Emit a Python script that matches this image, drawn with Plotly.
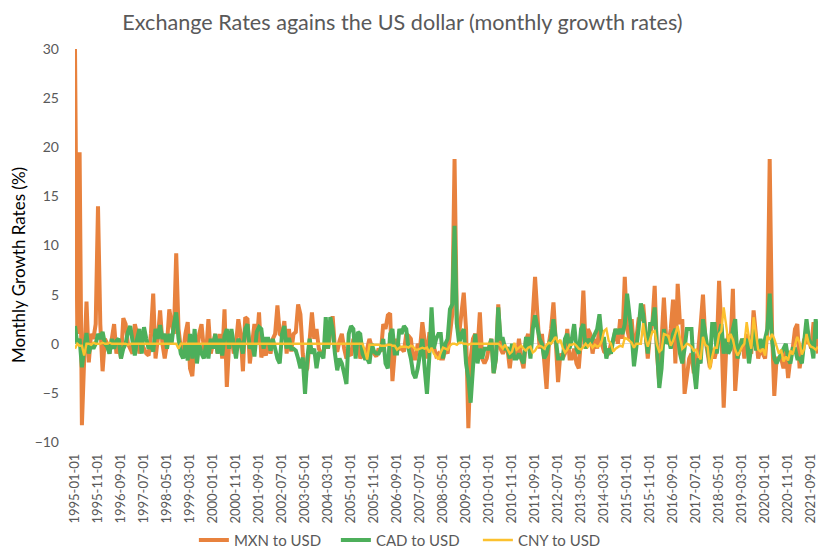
import pandas as pd
import plotly.graph_objects as go

# Monthly categories 1995-01 .. 2021-12
months = [d.strftime("%Y-%m-%d") for d in pd.date_range("1995-01-01", "2021-12-01", freq="MS")]

mxn = [
    # 1995
    30.0, 1.0, 19.5, -8.3, -1.5, 4.3, -1.9, 1.0, 0.5, 2.0, 14.0, 2.0,
    # 1996
    -2.8, 0.5, 0.0, -1.0, 0.5, 2.0, -1.0, 0.0, -1.5, 2.6, 2.0, 0.0,
    # 1997
    -0.5, -1.0, 2.0, 1.0, -1.0, 0.0, -0.5, -1.0, -1.2, 1.0, 5.1, -1.5,
    # 1998
    0.5, 3.4, 0.0, -1.5, 0.0, 3.5, 2.0, 1.0, 9.2, 1.5, -0.5, -1.0,
    # 1999
    1.0, 2.2, -2.5, -3.3, 0.0, -1.0, 1.0, 2.0, -0.5, -1.0, 2.5, -1.0,
    # 2000
    0.0, 1.0, -1.0, 1.0, -1.5, 3.5, -4.4, 0.0, 1.0, -1.0, 0.0, 2.5,
    # 2001
    1.0, -2.8, 2.7, 2.5, -2.0, 0.0, 2.0, 0.0, 3.2, -1.4, -0.5, -1.2,
    # 2002
    0.5, -1.0, 0.5, 1.0, 3.9, 1.0, 0.8, 2.3, -1.0, 1.5, -0.8, 1.0,
    # 2003
    1.2, 4.0, 3.0, -1.0, -3.0, -2.5, 1.0, 3.2, 0.5, 1.5, -0.5, -1.0,
    # 2004
    -1.0, 0.5, -0.5, 1.5, 2.8, -0.5, -0.8, 0.3, 1.0, -0.5, -1.5, -1.0,
    # 2005
    -1.2, 0.5, -0.5, 0.8, -1.5, -1.0, -1.2, -0.5, 0.5, -0.3, -1.0, -1.3,
    # 2006
    -0.5, -0.8, 2.0, 1.5, 2.9, 3.1, -3.8, -0.8, 0.5, -0.5, -0.5, -0.8,
    # 2007
    1.0, 0.8, 0.5, -1.5, -1.5, 0.0, -0.5, 2.2, 0.0, -1.5, 1.0, 1.0,
    # 2008
    -0.3, -1.2, -1.0, -1.5, -1.5, -0.5, -1.0, 0.8, 3.0, 18.8, 2.0, 1.0,
    # 2009
    3.0, 5.2, 1.5, -8.6, -1.5, 0.5, 1.0, -0.5, 3.2, -1.5, -2.0, -1.5,
    # 2010
    -0.3, 0.5, -3.0, -1.5, 4.0, -0.5, -1.0, -0.5, -0.5, -2.5, -0.5, -0.5,
    # 2011
    -1.5, 0.5, -1.5, -2.5, 0.3, 1.0, -1.0, 2.5, 6.8, 3.0, -0.5, 1.0,
    # 2012
    -2.5, -4.6, 0.0, 1.5, 4.2, 0.5, -3.9, -1.0, -1.5, -1.0, 1.5, -1.5,
    # 2013
    -1.5, -0.5, -2.0, -2.5, 0.5, 5.4, -0.5, 1.5, 1.0, -1.0, 0.5, -0.5,
    # 2014
    2.0, 0.0, -0.8, -1.0, -1.0, 0.0, 0.3, 1.5, 0.0, 2.5, 0.5, 6.8,
    # 2015
    1.5, 0.5, 2.5, -0.5, 0.5, 2.5, 2.5, 4.0, 1.0, -1.5, 1.0, 2.0,
    # 2016
    5.9, -1.0, -4.0, 1.5, 4.7, 0.5, 0.0, 1.5, 4.5, -2.0, 6.1, 2.0,
    # 2017
    2.5, -5.1, -3.5, -1.5, -1.0, -3.0, -1.5, -0.5, 2.0, 5.0, 0.5, -1.0,
    # 2018
    -2.4, -0.5, -1.5, -0.5, 6.4, 1.5, -6.5, -1.0, 1.0, 0.0, 5.6, -4.8,
    # 2019
    -1.5, -0.5, 0.5, -1.5, 1.0, -0.5, -1.0, 3.4, 0.5, -1.5, -0.5, -1.0,
    # 2020
    -1.5, 1.5, 18.8, 1.5, -5.3, -1.5, -1.5, -1.5, -2.5, -0.5, -3.5, -1.5,
    # 2021
    -0.5, 1.5, 2.0, -2.5, -1.0, 0.5, 0.0, 0.5, -0.5, 2.0, 2.0, -1.0,
]

cad = [
    # 1995
    1.8, 0.0, 0.5, -2.4, -0.5, 1.1, -1.0, 0.0, -0.5, 0.0, 1.0, 0.5,
    # 1996
    1.2, 0.0, -0.3, -1.0, 0.5, -0.5, 0.3, 0.5, -1.5, -0.5, 0.0, 1.2,
    # 1997
    1.8, 0.0, -1.2, 0.5, 1.5, -1.0, 1.7, 0.5, -0.5, 0.0, -0.8, 1.5,
    # 1998
    0.5, 1.9, 0.5, 1.0, -0.5, 1.0, 0.0, 2.0, 3.2, 0.5, -1.0, -1.5,
    # 1999
    0.0, -1.7, 1.0, -1.5, 1.5, -2.0, 0.0, -1.0, -1.5, 0.0, -1.5, 0.5,
    # 2000
    -0.5, 1.0, -1.0, 0.5, -1.2, 0.8, 1.5, -0.5, 1.5, 0.0, -1.5, 0.5,
    # 2001
    0.0, -1.0, 1.5, 2.0, -0.5, 0.0, -1.3, 1.2, 1.7, 1.5, -0.5, 0.5,
    # 2002
    0.5, -0.7, 0.5, -0.5, -1.5, -2.0, 1.0, 1.8, -0.5, 0.6, -0.5, -0.5,
    # 2003
    -0.7, -1.5, -2.5, -1.4, -5.1, -1.5, 0.5, -1.0, -0.5, -2.5, -1.0, -1.0,
    # 2004
    -1.5, 2.7, -0.5, 2.7, 1.5, -1.0, -2.7, -1.5, -2.0, -3.0, -4.1, 1.0,
    # 2005
    1.8, 1.5, -1.5, 1.2, 1.0, -1.0, -1.5, -1.5, -2.0, 0.0, -0.8, -1.0,
    # 2006
    -1.0, -0.5, 0.5, -2.0, -2.5, 1.0, 1.5, -1.0, -1.0, 1.5, 1.0, 1.8,
    # 2007
    1.5, -0.5, -1.5, -3.0, -3.5, -2.5, -1.0, 0.5, -2.5, -5.1, -1.5, 3.7,
    # 2008
    -0.5, 0.5, 1.0, 1.0, -1.5, 0.0, 0.5, 3.5, 4.0, 12.0, 2.0, 0.0,
    # 2009
    1.0, 1.5, -2.0, -3.5, -6.0, -2.5, 1.0, -2.0, -0.5, -1.5, -0.5, -0.5,
    # 2010
    -0.5, 0.5, -3.0, -1.5, 3.7, 0.5, 0.5, -0.5, -0.5, -1.5, 0.0, -1.5,
    # 2011
    -1.5, -1.0, -1.5, -2.0, 0.5, 0.5, -1.5, 1.5, 2.9, 1.5, 0.5, 0.0,
    # 2012
    -1.5, -1.0, 0.0, 0.5, 2.5, 0.5, -1.5, -1.5, -1.5, 0.5, 1.0, -0.5,
    # 2013
    0.5, 2.0, -0.5, -1.0, 1.5, 2.0, -0.5, 0.5, 0.0, 0.5, 1.0, 1.5,
    # 2014
    3.0, 0.5, 0.5, -1.5, -0.5, -1.0, 0.5, 1.5, 1.0, 1.5, 1.0, 2.0,
    # 2015
    5.1, 3.0, 1.0, -2.3, -0.5, 1.5, 4.1, 3.0, 1.0, -1.0, 2.0, 2.0,
    # 2016
    3.7, -1.5, -4.5, -2.5, 1.5, 0.0, 0.5, -0.5, 1.0, 1.5, 1.0, -1.0,
    # 2017
    -2.0, -0.5, 1.5, 1.5, 1.5, -2.5, -4.6, -1.5, -2.0, 2.5, 1.0, -0.5,
    # 2018
    -2.0, 2.0, 2.0, -1.0, 1.0, 2.0, -1.0, 0.5, -1.0, -0.5, 1.5, 2.5,
    # 2019
    -1.5, -0.5, 0.5, 0.0, 0.5, -2.0, -0.5, 1.5, -0.5, -0.5, 0.5, -0.5,
    # 2020
    0.5, 1.5, 5.1, 0.5, -1.5, -2.0, -1.5, -1.0, -0.5, 0.0, -1.5, -2.0,
    # 2021
    -0.5, -0.5, -1.5, -1.5, -2.0, 0.5, 2.5, 0.5, 0.0, -1.5, 2.5, 0.5,
]

cny = [
    # 1995
    -0.5, 0.0, -0.2, -0.2, -1.2, 0.0, 0.0, -0.1, 0.1, 0.0, 0.0, 0.0,
    # 1996
    0.1, 0.0, 0.0, 0.1, 0.0, 0.0, 0.0, 0.0, 0.0, 0.0, 0.0, -0.1,
    # 1997
    0.0, 0.0, 0.0, 0.0, 0.0, 0.0, 0.0, 0.0, 0.0, 0.0, 0.0, 0.0,
    # 1998
    0.0, 0.0, 0.0, 0.0, 0.0, 0.0, 0.0, 0.0, 0.0, -0.5, 0.0, 0.0,
    # 1999
    0.0, 0.0, 0.0, 0.0, 0.0, 0.0, 0.0, 0.0, 0.0, 0.0, 0.0, 0.0,
    # 2000
    0.0, 0.0, 0.0, 0.0, 0.0, 0.0, 0.0, 0.0, 0.0, 0.0, 0.0, 0.0,
    # 2001
    0.0, 0.0, 0.0, 0.0, 0.0, 0.0, 0.0, 0.0, 0.0, 0.0, 0.0, 0.0,
    # 2002
    0.0, 0.0, 0.0, 0.0, 0.0, 0.0, 0.0, 0.0, 0.0, 0.0, 0.0, 0.0,
    # 2003
    0.0, 0.0, 0.0, 0.0, 0.0, 0.0, 0.0, 0.0, 0.0, 0.0, 0.0, 0.0,
    # 2004
    0.0, 0.0, 0.0, 0.0, 0.0, 0.0, 0.0, 0.0, 0.0, 0.0, 0.0, 0.0,
    # 2005
    0.0, 0.0, 0.0, 0.0, 0.0, 0.0, -0.7, -1.6, -0.1, -0.1, -0.1, -0.1,
    # 2006
    -0.1, -0.2, -0.2, -0.2, -0.1, -0.1, -0.2, -0.2, -0.6, -0.4, -0.3, -0.3,
    # 2007
    -0.3, -0.4, -0.2, -0.3, -0.6, -0.6, -0.5, -0.4, -0.5, -0.4, -0.9, -0.4,
    # 2008
    -1.0, -1.3, -1.6, -0.9, -0.4, -0.5, -0.6, -0.2, 0.0, 0.0, -0.1, 0.1,
    # 2009
    0.1, 0.0, 0.0, -0.1, 0.0, 0.0, 0.0, 0.0, 0.0, 0.0, 0.0, 0.0,
    # 2010
    0.0, 0.0, 0.0, 0.0, 0.0, -0.2, -0.5, -0.1, -0.5, -1.0, -0.8, 0.1,
    # 2011
    -0.6, -0.4, -0.2, -0.5, -0.7, -0.4, -0.3, -0.9, -0.7, -0.3, -0.2, -0.3,
    # 2012
    -0.5, -0.1, 0.1, 0.0, 0.4, 0.7, 0.1, 0.4, -0.4, -0.9, -0.6, -0.1,
    # 2013
    -0.1, 0.0, -0.2, -0.5, -0.6, -0.3, 0.0, -0.3, 0.0, -0.4, -0.1, -0.3,
    # 2014
    -0.2, 0.3, 1.3, 1.5, 0.3, 0.0, -0.8, -0.5, -0.3, -0.2, -0.3, 0.6,
    # 2015
    0.5, 0.3, 0.1, -0.4, 0.0, 0.0, 0.0, 2.1, 0.5, -0.3, 0.4, 1.2,
    # 2016
    1.3, -0.1, -0.8, -0.6, 1.0, 0.9, 0.8, -0.2, 0.3, 1.0, 1.8, 0.6,
    # 2017
    -0.5, -0.3, 0.0, -0.1, -0.3, -0.7, -0.6, -1.2, -1.6, 0.7, -0.1, -0.3,
    # 2018
    -2.6, -1.3, -0.4, -0.4, 1.0, 1.3, 3.7, 2.0, 0.2, 1.0, 0.4, -0.6,
    # 2019
    -1.2, -0.8, -0.3, 0.0, 2.2, 0.6, -0.5, 2.7, 0.9, -0.6, -0.8, -0.5,
    # 2020
    -1.2, 0.8, 0.4, 1.0, 0.5, -0.4, -1.0, -0.6, -1.8, -1.3, -1.7, -0.7,
    # 2021
    -1.1, -0.1, 0.7, 0.1, -1.1, -0.5, 1.0, 0.0, -0.3, -0.4, -0.6, -0.3,
]

series_names = ["MXN to USD", "CAD to USD", "CNY to USD"]
series_colors = ["#E8823E", "#4DAF5B", "#FCC12E"]
series_widths = [4.0, 4.0, 2.4]

tick_labels = months[::10]
y_ticks = [-10, -5, 0, 5, 10, 15, 20, 25, 30]

FONT = "Lato, Carlito, Calibri, sans-serif"
GREY = "#595959"

fig = go.Figure()
for name, vals, col, w in zip(series_names, [mxn, cad, cny], series_colors, series_widths):
    fig.add_trace(go.Scatter(
        x=months, y=vals, mode="lines", name=name,
        line=dict(color=col, width=w),
    ))

fig.update_layout(
    width=818, height=550,
    margin=dict(l=75, r=0, t=49, b=108, autoexpand=False),
    paper_bgcolor="white", plot_bgcolor="white",
    font=dict(family=FONT, color=GREY),
    title=dict(
        text="Exchange Rates agains the US dollar (monthly growth rates)",
        xref="container", yref="container",
        x=0.492, xanchor="center", y=0.96, yanchor="middle",
        font=dict(family=FONT, size=21.6, color=GREY),
    ),
    showlegend=True,
    legend=dict(
        orientation="h", x=0.16, xanchor="left", y=-0.25, yanchor="middle",
        font=dict(family=FONT, size=15, color=GREY),
        entrywidth=97, entrywidthmode="pixels",
        traceorder="normal",
    ),
    xaxis=dict(
        type="category", automargin=False,
        range=[0, len(months) - 1],
        tickmode="array", tickvals=tick_labels, ticktext=tick_labels,
        tickangle=-90, showgrid=False, showline=False, zeroline=False,
        ticks="", ticklabelstandoff=8,
        tickfont=dict(family=FONT, size=13, color=GREY),
    ),
    yaxis=dict(
        automargin=False,
        range=[-10, 30], tickmode="array", tickvals=y_ticks,
        showgrid=False, showline=False,
        zeroline=True, zerolinecolor="#D9D9D9", zerolinewidth=1,
        ticks="", ticklabelstandoff=15,
        tickfont=dict(family=FONT, size=14, color=GREY),
    ),
    annotations=[dict(
        text="Monthly Growth Rates (%)", textangle=-90,
        xref="paper", yref="paper", x=(18 - 75) / 743, y=(442 - 265) / 393,
        xanchor="center", yanchor="middle", showarrow=False,
        font=dict(family=FONT, size=17, color="#000000"),
    )],
)

fig.write_html(
    "out.html",
    config={"displayModeBar": False},
    post_script="document.body.style.margin='0px';",
)
